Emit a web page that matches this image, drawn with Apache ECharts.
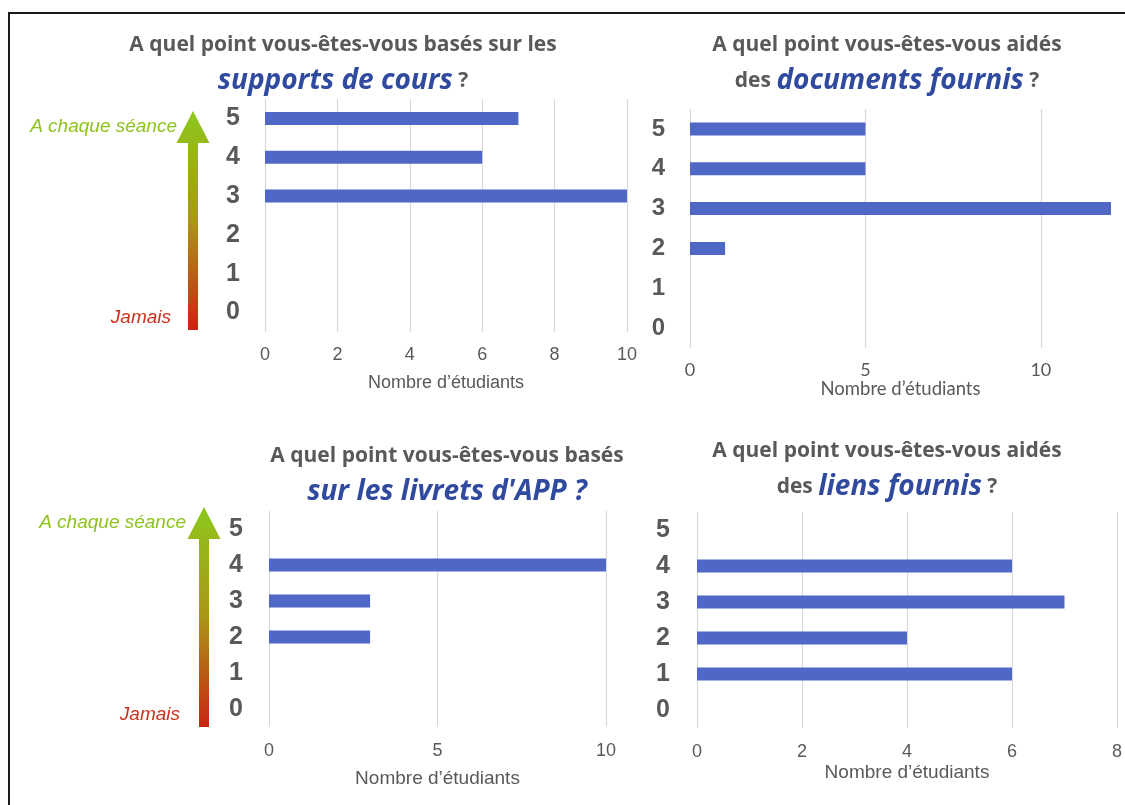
<!DOCTYPE html>
<html lang="fr">
<head>
<meta charset="utf-8">
<title>Utilisation des ressources</title>
<script src="https://cdn.jsdelivr.net/npm/echarts@6/dist/echarts.min.js"></script>
<style>
  html, body { margin: 0; padding: 0; background: #ffffff; }
  #chart { width: 1125px; height: 805px; }
</style>
</head>
<body>
<div id="chart"></div>
<script>
// Niveaux de fréquence (0 = jamais, 5 = à chaque séance)
const levels = ['0', '1', '2', '3', '4', '5'];

// Nombre d'étudiants par niveau, pour chaque ressource
const supportsCours    = [0, 0, 0, 10, 6, 7];
const documentsFournis = [0, 0, 1, 12, 5, 5];
const livretsApp       = [0, 0, 3, 3, 10, 0];
const liensFournis     = [0, 6, 4, 7, 6, 0];

// Bornes et pas de l'axe horizontal de chaque graphique
const axisMax      = [10, 12, 10, 8];
const axisInterval = [2, 5, 5, 2];

const xAxisName = 'Nombre d’étudiants';

const GRAY = '#595959';
const BLUE = '#2F4A9E';
const BAR = '#4F68C6';
const GRID_LINE = '#D9D9D9';

const chart = echarts.init(document.getElementById('chart'), null, { renderer: 'canvas' });

// Zones de tracé des quatre graphiques
const grids = [
  { left: 265, top: 99,  width: 362, height: 233 },
  { left: 690, top: 109, width: 421, height: 239 },
  { left: 269, top: 511, width: 337, height: 216 },
  { left: 697, top: 512, width: 424, height: 216 }
];

const labelMargins = [14, 13, 15, 15];
const labelSizes = [18, 18, 18, 18];
const nameGaps = [42, 30, 42, 35];
const nameSizes = [18, 18.5, 19, 19];
const yLabelSizes = [25, 24, 25, 25];
const yLabelMargins = [25, 25, 26, 27];

const xAxes = grids.map((g, i) => ({
  type: 'value',
  gridIndex: i,
  min: 0,
  max: axisMax[i],
  interval: axisInterval[i],
  axisLine: { show: false },
  axisTick: { show: false },
  axisLabel: {
    color: GRAY,
    fontFamily: i === 1 ? 'Lato' : 'Liberation Sans',
    fontSize: labelSizes[i],
    margin: labelMargins[i],
    showMaxLabel: i !== 1
  },
  splitLine: {
    show: true,
    lineStyle: {
      width: 1.2,
      // pas de ligne de grille à l'extrémité 12 du second graphique
      color: i === 1 ? [GRID_LINE, GRID_LINE, GRID_LINE, 'rgba(0,0,0,0)'] : GRID_LINE
    }
  },
  name: xAxisName,
  nameLocation: 'middle',
  nameGap: nameGaps[i],
  nameTextStyle: {
    color: GRAY,
    fontFamily: i === 1 ? 'Lato' : 'Liberation Sans',
    fontSize: nameSizes[i]
  }
}));

const yAxes = grids.map((g, i) => ({
  type: 'category',
  gridIndex: i,
  data: levels,
  axisLine: { show: false },
  axisTick: { show: false },
  splitLine: { show: false },
  axisLabel: {
    color: GRAY,
    fontFamily: 'Liberation Sans',
    fontWeight: 'bold',
    fontSize: yLabelSizes[i],
    margin: yLabelMargins[i]
  }
}));

const seriesData = [supportsCours, documentsFournis, livretsApp, liensFournis];
const series = seriesData.map((d, i) => ({
  type: 'bar',
  xAxisIndex: i,
  yAxisIndex: i,
  data: d,
  barWidth: 13,
  silent: true,
  itemStyle: { color: BAR },
  emphasis: { disabled: true }
}));

// Styles des titres
const rich = {
  g: { fontFamily: 'Open Sans', fontWeight: 'bold', fontSize: 21, fill: GRAY, lineHeight: 36 },
  b: { fontFamily: 'Open Sans', fontWeight: 'bold', fontStyle: 'italic', fontSize: 28, fill: BLUE, lineHeight: 36 }
};

function titleText(x, y, text) {
  return {
    type: 'text',
    x: x,
    y: y,
    silent: true,
    style: {
      text: text,
      align: 'center',
      verticalAlign: 'middle',
      rich: rich
    }
  };
}

// Flèche verticale (Jamais → A chaque séance) dégradée du rouge au vert
function arrow(cx, top, headBase, bottom) {
  const hw = 16.5, sw = 5;
  return {
    type: 'polygon',
    silent: true,
    shape: {
      points: [
        [cx, top], [cx + hw, headBase], [cx + sw, headBase], [cx + sw, bottom],
        [cx - sw, bottom], [cx - sw, headBase], [cx - hw, headBase]
      ]
    },
    style: {
      fill: new echarts.graphic.LinearGradient(0, 0, 0, 1, [
        { offset: 0, color: '#8DC81C' },
        { offset: 0.5, color: '#AA9618' },
        { offset: 1, color: '#C82512' }
      ])
    }
  };
}

function sideLabel(x, y, text, color) {
  return {
    type: 'text',
    x: x,
    y: y,
    silent: true,
    style: {
      text: text,
      align: 'right',
      verticalAlign: 'middle',
      fontFamily: 'Liberation Sans',
      fontStyle: 'italic',
      fontSize: 19,
      fill: color
    }
  };
}

const GREEN_TXT = '#8DC21F';
const RED_TXT = '#C8321E';

const graphic = [
  // cadre
  {
    type: 'rect',
    silent: true,
    shape: { x: 9, y: 13, width: 1140, height: 820 },
    style: { fill: 'none', stroke: '#1a1a1a', lineWidth: 2 }
  },
  titleText(343, 63.5, '{g|A quel point vous-êtes-vous basés sur les}\n{b|supports de cours}{g| ?}'),
  titleText(887, 63.5, '{g|A quel point vous-êtes-vous aidés}\n{g|des }{b|documents fournis}{g| ?}'),
  titleText(447, 474, '{g|A quel point vous-êtes-vous basés}\n{b|sur les livrets d\'APP ?}'),
  titleText(887, 469, '{g|A quel point vous-êtes-vous aidés}\n{g|des }{b|liens fournis}{g| ?}'),
  arrow(193, 111, 143, 330),
  arrow(204, 507, 539, 727),
  sideLabel(177, 127, 'A chaque séance', GREEN_TXT),
  sideLabel(171, 318, 'Jamais', RED_TXT),
  sideLabel(186, 523, 'A chaque séance', GREEN_TXT),
  sideLabel(180, 715, 'Jamais', RED_TXT)
];

chart.setOption({
  animation: false,
  backgroundColor: '#ffffff',
  grid: grids.map(g => Object.assign({ containLabel: false }, g)),
  xAxis: xAxes,
  yAxis: yAxes,
  series: series,
  graphic: graphic
});
</script>
</body>
</html>
